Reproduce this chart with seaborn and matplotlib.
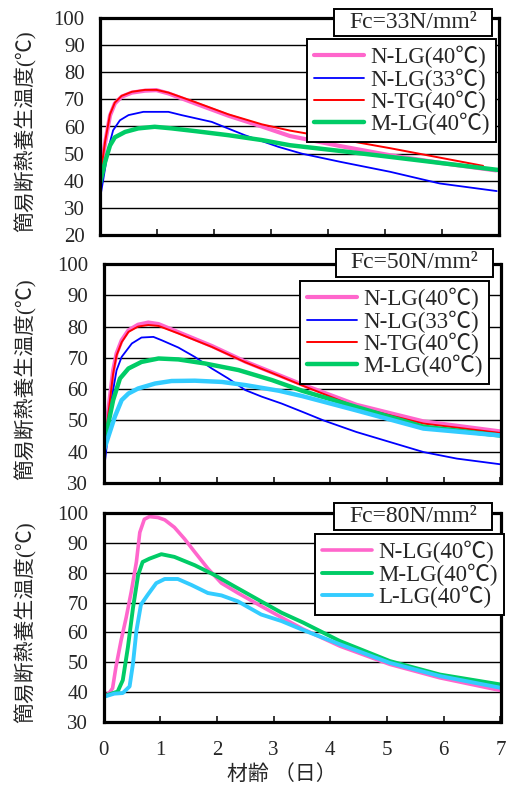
import matplotlib
matplotlib.use("Agg")
import matplotlib.pyplot as plt
from matplotlib.patches import Rectangle
from matplotlib.lines import Line2D
import seaborn as sns
import pandas as pd

sns.set_style("white")
plt.rcParams["font.family"] = ["Liberation Serif", "Noto Sans CJK JP"]

# ---- Fc=33N/mm2 ----
p1_pink_t = [0, 0.09, 0.175, 0.26, 0.38, 0.56, 0.79, 0.99, 1.2, 1.67, 2.25, 2.84, 3.33, 4.21, 5.09, 6.0, 6.95]
p1_pink_v = [42, 54, 64, 68.5, 71, 72.5, 73.2, 73.4, 72.2, 68.5, 64, 60, 56.5, 52.8, 49.4, 46.5, 43.8]
p1_blue_t = [0, 0.06, 0.146, 0.23, 0.35, 0.5, 0.76, 1.2, 1.43, 1.96, 2.54, 3.13, 3.54, 4.21, 5.09, 5.96, 6.96]
p1_blue_v = [33.4, 40.8, 51.9, 58.6, 62.3, 64.2, 65.4, 65.4, 64.2, 61.7, 56.8, 52.5, 50, 47, 43.3, 39, 36.2]
p1_red_t = [0, 0.09, 0.175, 0.26, 0.38, 0.56, 0.79, 0.99, 1.2, 1.67, 2.25, 2.84, 3.33, 4.21, 5.09, 6.72]
p1_red_v = [41, 54.5, 64.5, 68.8, 71.3, 72.8, 73.5, 73.5, 72.5, 69, 64.5, 60.8, 58.5, 55.3, 52, 45.5]
p1_green_t = [0, 0.09, 0.175, 0.26, 0.44, 0.67, 0.96, 1.26, 1.67, 2.25, 2.84, 3.33, 4.21, 5.09, 6.98]
p1_green_v = [39, 47, 53, 56, 58, 59.3, 59.9, 59.3, 58.3, 56.8, 55, 53.1, 51, 48.8, 44]

# ---- Fc=50N/mm2 ----
p2_pink_t = [0, 0.085, 0.17, 0.23, 0.32, 0.44, 0.61, 0.79, 0.97, 1.32, 1.91, 2.5, 3.09, 3.5, 4.46, 5.64, 6.99]
p2_pink_v = [40, 53.3, 66, 71.4, 75.6, 78.8, 80.6, 81.3, 80.8, 78.2, 73.8, 68.8, 64.5, 61.5, 55, 49.7, 46.5]
p2_blue_t = [0, 0.056, 0.14, 0.23, 0.32, 0.5, 0.67, 0.88, 1.03, 1.32, 1.61, 1.91, 2.2, 2.5, 2.79, 3.14, 3.5, 3.88, 4.46, 5.05, 5.64, 6.23, 6.99]
p2_blue_v = [33, 41.6, 56.5, 66, 70.3, 74.6, 76.5, 76.7, 75.6, 73.3, 70.3, 66.6, 63.4, 59.7, 57.6, 55.4, 52.8, 50, 46.3, 43.1, 39.9, 37.8, 36]
p2_red_t = [0, 0.085, 0.17, 0.23, 0.32, 0.44, 0.61, 0.79, 0.97, 1.32, 1.91, 2.5, 3.09, 3.5, 4.46, 5.64, 6.99]
p2_red_v = [38.5, 52, 65, 70.8, 75, 78.3, 80, 80.5, 80.2, 77.8, 73.5, 68.6, 64.3, 61.2, 54.3, 49, 46]
p2_green_t = [0, 0.085, 0.17, 0.29, 0.44, 0.67, 0.97, 1.32, 1.79, 2.38, 2.97, 3.5, 4.46, 5.64, 6.99]
p2_green_v = [40.5, 49, 56.5, 63.4, 66.6, 68.7, 69.8, 69.5, 68.2, 66.1, 62.9, 59.5, 54.3, 48, 45.2]
p2_cyan_t = [0, 0.085, 0.2, 0.32, 0.44, 0.61, 0.91, 1.2, 1.61, 2.09, 2.5, 3.09, 3.5, 4.46, 5.64, 6.99]
p2_cyan_v = [40, 44.8, 51.2, 56.5, 58.6, 60.2, 61.8, 62.6, 62.7, 62.3, 61.3, 59.5, 57.8, 53.2, 47.4, 45.2]

# ---- Fc=80N/mm2 ----
p3_pink_t = [0, 0.1, 0.16, 0.22, 0.31, 0.4, 0.49, 0.58, 0.64, 0.72, 0.81, 0.96, 1.08, 1.25, 1.43, 1.61, 1.84, 2.08, 2.37, 2.78, 3.14, 3.52, 4.17, 5.05, 5.93, 6.99]
p3_pink_v = [38.6, 39.7, 41.3, 48.5, 57.3, 65, 73.7, 83.6, 93.5, 97.9, 98.8, 98.5, 97.7, 95.2, 91.3, 86.9, 81.4, 76.5, 73.2, 68.8, 65, 61.1, 55.4, 49.3, 44.8, 40.6]
p3_green_t = [0, 0.25, 0.34, 0.43, 0.52, 0.61, 0.69, 0.81, 1.02, 1.25, 1.61, 1.96, 2.31, 2.78, 3.14, 3.52, 4.17, 5.05, 5.93, 6.99]
p3_green_v = [38.6, 40.2, 44, 55, 68.2, 79.2, 83.6, 84.7, 86.2, 85.3, 82.5, 79.2, 75.4, 70.4, 66.6, 63.3, 57.1, 50.4, 45.9, 42.6]
p3_cyan_t = [0, 0.19, 0.34, 0.46, 0.52, 0.58, 0.66, 0.78, 0.93, 1.08, 1.31, 1.55, 1.84, 2.08, 2.37, 2.78, 3.14, 3.52, 4.17, 5.05, 5.93, 6.99]
p3_cyan_v = [38.4, 39.5, 39.7, 41.9, 49.6, 60.5, 69.3, 72.6, 76.5, 77.9, 77.9, 75.9, 73.2, 72.4, 70.4, 66, 63.8, 60.8, 56, 49.8, 45.4, 41.5]

titles = ["Fc=33N/mm²", "Fc=50N/mm²", "Fc=80N/mm²"]
y_label = "簡易断熱養生温度(℃)"
x_label = "材齢 （日）"
x_ticks = [0, 1, 2, 3, 4, 5, 6, 7]

PINK, BLUE, RED, GREEN, CYAN = "#ff66cc", "#0000ff", "#ff0000", "#00cc66", "#33ccff"

W, H = 508, 785
fig = plt.figure(figsize=(W / 100, H / 100), dpi=100)


def fx(x):
    return x / W


def fy(y):
    return 1 - y / H


def make_axes(left, right, top, bottom):
    return fig.add_axes([fx(left), fy(bottom), (right - left) / W, (bottom - top) / H])


def draw(ax, t, v, color, lw, label):
    df = pd.DataFrame({"t": t, "v": v})
    sns.lineplot(data=df, x="t", y="v", ax=ax, color=color, linewidth=lw,
                 label=label, legend=False, zorder=3)


def style_axes(ax, ymin, show_xlabels):
    ax.set_xlim(0, 7)
    ax.set_ylim(ymin, 100)
    ax.set_xticks(x_ticks)
    ax.set_yticks(list(range(ymin, 101, 10)))
    ax.set_xlabel("")
    ax.set_ylabel("")
    ax.yaxis.grid(True, color="black", linewidth=1.0, zorder=1)
    ax.xaxis.grid(False)
    ax.set_axisbelow(True)
    for s in ax.spines.values():
        s.set_linewidth(2.3)
        s.set_color("black")
        s.set_zorder(5)
    ax.tick_params(axis="y", length=0, pad=11, labelsize=15)
    ax.tick_params(axis="x", direction="in", length=4, width=1.3, pad=14,
                   labelsize=15, bottom=True, top=False,
                   labelbottom=show_xlabels)


def title_box(x0, x1, y0, y1, text):
    fig.add_artist(Rectangle((fx(x0), fy(y1)), (x1 - x0) / W, (y1 - y0) / H,
                             transform=fig.transFigure, facecolor="white",
                             edgecolor="black", linewidth=1.4, zorder=10))
    fig.text(fx((x0 + x1) / 2), fy((y0 + y1) / 2), text, ha="center", va="center",
             fontsize=17, zorder=11)


def legend(ax, entries, left, top):
    handles = [Line2D([], [], color=c, linewidth=lw) for c, lw, _ in entries]
    labels = [lab for _, _, lab in entries]
    lg = ax.legend(handles, labels, loc="upper left",
                   bbox_to_anchor=(fx(left), fy(top)), bbox_transform=fig.transFigure,
                   borderaxespad=0, fontsize=16.5, handlelength=2.2, handletextpad=0.25,
                   labelspacing=0.0, borderpad=0.3, frameon=True, fancybox=False)
    fr = lg.get_frame()
    fr.set_edgecolor("black")
    fr.set_linewidth(1.4)
    fr.set_facecolor("white")
    fr.set_alpha(1)
    lg.set_zorder(8)


# Panel 1
ax1 = make_axes(100, 499, 18, 235)
draw(ax1, p1_pink_t, p1_pink_v, PINK, 3.0, "N-LG(40℃)")
draw(ax1, p1_blue_t, p1_blue_v, BLUE, 1.3, "N-LG(33℃)")
draw(ax1, p1_red_t, p1_red_v, RED, 1.4, "N-TG(40℃)")
draw(ax1, p1_green_t, p1_green_v, GREEN, 3.2, "M-LG(40℃)")
style_axes(ax1, 20, False)
legend(ax1, [(PINK, 3.0, "N-LG(40℃)"), (BLUE, 1.3, "N-LG(33℃)"),
             (RED, 1.4, "N-TG(40℃)"), (GREEN, 3.2, "M-LG(40℃)")], 307, 39)
title_box(334, 492, 9, 36, titles[0])
fig.text(fx(26), fy(131), y_label, rotation=90, ha="center", va="center", fontsize=15)

# Panel 2
ax2 = make_axes(103.5, 500.5, 264, 483)
draw(ax2, p2_pink_t, p2_pink_v, PINK, 3.0, "N-LG(40℃)")
draw(ax2, p2_blue_t, p2_blue_v, BLUE, 1.3, "N-LG(33℃)")
draw(ax2, p2_red_t, p2_red_v, RED, 1.4, "N-TG(40℃)")
draw(ax2, p2_green_t, p2_green_v, GREEN, 3.2, "M-LG(40℃)")
draw(ax2, p2_cyan_t, p2_cyan_v, CYAN, 3.2, "_L-LG(40℃)")
style_axes(ax2, 30, False)
legend(ax2, [(PINK, 3.0, "N-LG(40℃)"), (BLUE, 1.3, "N-LG(33℃)"),
             (RED, 1.4, "N-TG(40℃)"), (GREEN, 3.2, "M-LG(40℃)")], 300, 281)
title_box(336, 493, 249, 277, titles[1])
fig.text(fx(26), fy(379), y_label, rotation=90, ha="center", va="center", fontsize=15)

# Panel 3
ax3 = make_axes(103.5, 500.5, 513, 722)
draw(ax3, p3_pink_t, p3_pink_v, PINK, 2.6, "N-LG(40℃)")
draw(ax3, p3_green_t, p3_green_v, GREEN, 2.8, "M-LG(40℃)")
draw(ax3, p3_cyan_t, p3_cyan_v, CYAN, 2.8, "L-LG(40℃)")
style_axes(ax3, 30, True)
legend(ax3, [(PINK, 2.6, "N-LG(40℃)"), (GREEN, 2.8, "M-LG(40℃)"),
             (CYAN, 2.8, "L-LG(40℃)")], 315, 534)
title_box(334, 492, 503, 530, titles[2])
fig.text(fx(26), fy(622), y_label, rotation=90, ha="center", va="center", fontsize=15)

fig.text(fx(282), fy(775), x_label, ha="center", va="center", fontsize=15)

fig.savefig("out.png", dpi=100)
